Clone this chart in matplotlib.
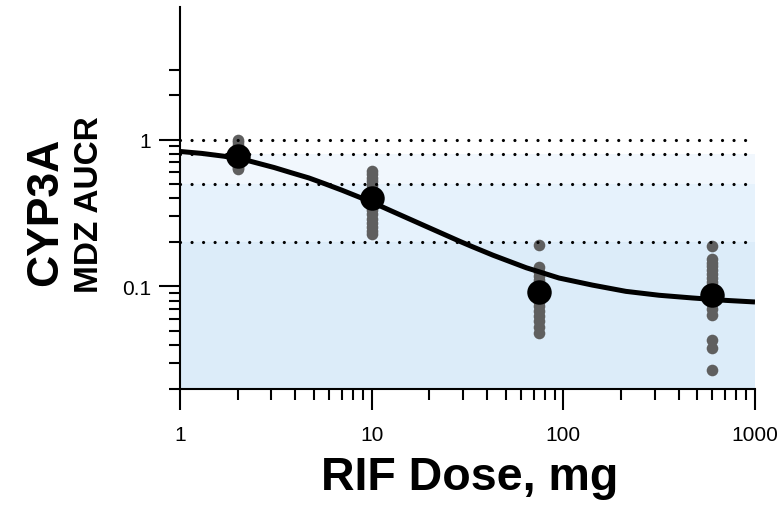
import matplotlib
matplotlib.use("Agg")
import matplotlib.pyplot as plt
from matplotlib.ticker import FixedLocator, NullFormatter, FixedFormatter

plt.rcParams['font.family'] = ['Liberation Sans', 'DejaVu Sans']

# ---- data ----
doses = [2, 10, 75, 600]
mean_aucr = [0.77, 0.40, 0.092, 0.087]

ind_2 = [1.0, 0.96, 0.92, 0.88, 0.84, 0.80, 0.77, 0.74, 0.71, 0.68, 0.66, 0.64, 0.63]
ind_10 = [0.615, 0.58, 0.55, 0.52, 0.49, 0.46, 0.43, 0.41, 0.39, 0.37, 0.35,
          0.33, 0.31, 0.29, 0.27, 0.255, 0.24, 0.228]
ind_75 = [0.19, 0.135, 0.126, 0.118, 0.11, 0.103, 0.096, 0.09, 0.084, 0.078,
          0.073, 0.068, 0.063, 0.058, 0.053, 0.048]
ind_600 = [0.187, 0.154, 0.145, 0.137, 0.129, 0.121, 0.114, 0.107, 0.1, 0.094,
           0.088, 0.082, 0.076, 0.07, 0.064, 0.043, 0.038, 0.027]
individuals = [ind_2, ind_10, ind_75, ind_600]

curve_dose = [1, 1.3, 1.7, 2.3, 3.1, 3.8, 4.7, 5.7, 7, 10, 12.7, 19, 29, 33, 43,
              64, 95, 142, 212, 316, 471, 704, 1000]
curve_aucr = [0.83, 0.805, 0.77, 0.715, 0.645, 0.595, 0.548, 0.50, 0.452, 0.375,
              0.326, 0.258, 0.202, 0.188, 0.163, 0.134, 0.114, 0.102, 0.0925,
              0.087, 0.0834, 0.0803, 0.0783]

ref_lines = [1.0, 0.8, 0.5, 0.2]
bands = [(0.02, 0.2, '#dcecf9'), (0.2, 0.5, '#e6f2fc'), (0.5, 0.8, '#f1f7fd')]

x_major = [1, 10, 100, 1000]
x_labels = ['1', '10', '100', '1000']
y_major = [0.1, 1]
y_labels = ['0.1', '1']
y_minor = [0.02, 0.03, 0.04, 0.05, 0.06, 0.07, 0.08, 0.09,
           0.2, 0.3, 0.4, 0.5, 0.6, 0.7, 0.8, 0.9, 2, 3]

# ---- figure ----
fig = plt.figure(figsize=(7.84, 5.06), dpi=100)
ax = fig.add_axes([180/784, 1-390/506, (755-180)/784, (390-8)/506])
ax.set_xscale('log')
ax.set_yscale('log')
ax.set_xlim(1, 1000)
ax.set_ylim(0.02, 8)

for lo, hi, c in bands:
    ax.axhspan(lo, hi, color=c, lw=0, zorder=0)

for d, vals in zip(doses, individuals):
    ax.scatter([d]*len(vals), vals, s=70, color='#5f5f5f', lw=0, zorder=2)

for r in ref_lines:
    ax.axhline(r, color='black', lw=2.3, linestyle=(0, (0.01, 3.6)),
               dash_capstyle='round', zorder=3)

ax.plot(curve_dose, curve_aucr, color='black', lw=3.6, zorder=4,
        solid_capstyle='butt', solid_joinstyle='round')
ax.scatter(doses, mean_aucr, s=310, color='black', lw=0, zorder=5)

for s in ['top', 'right']:
    ax.spines[s].set_visible(False)
for s in ['left', 'bottom']:
    ax.spines[s].set_linewidth(1.5)

ax.xaxis.set_major_locator(FixedLocator(x_major))
ax.xaxis.set_major_formatter(FixedFormatter(x_labels))
ax.xaxis.set_minor_formatter(NullFormatter())
ax.yaxis.set_major_locator(FixedLocator(y_major))
ax.yaxis.set_major_formatter(FixedFormatter(y_labels))
ax.yaxis.set_minor_locator(FixedLocator(y_minor))
ax.yaxis.set_minor_formatter(NullFormatter())

ax.tick_params(which='major', length=15, width=1.5, labelsize=15, color='black')
ax.tick_params(which='minor', length=8, width=1.5, color='black')
ax.tick_params(axis='x', which='major', pad=11)
ax.tick_params(axis='y', which='major', pad=6)

fig.text(46/784, 1-212/506, 'CYP3A', rotation=90, fontsize=32,
         fontweight='bold', ha='center', va='center')
fig.text(89/784, 1-205/506, 'MDZ AUCR', rotation=90, fontsize=24,
         fontweight='bold', ha='center', va='center')
fig.text(470/784, 1-478/506, 'RIF Dose, mg', fontsize=33.5,
         fontweight='bold', ha='center', va='center')

fig.savefig('out.png', dpi=100)
